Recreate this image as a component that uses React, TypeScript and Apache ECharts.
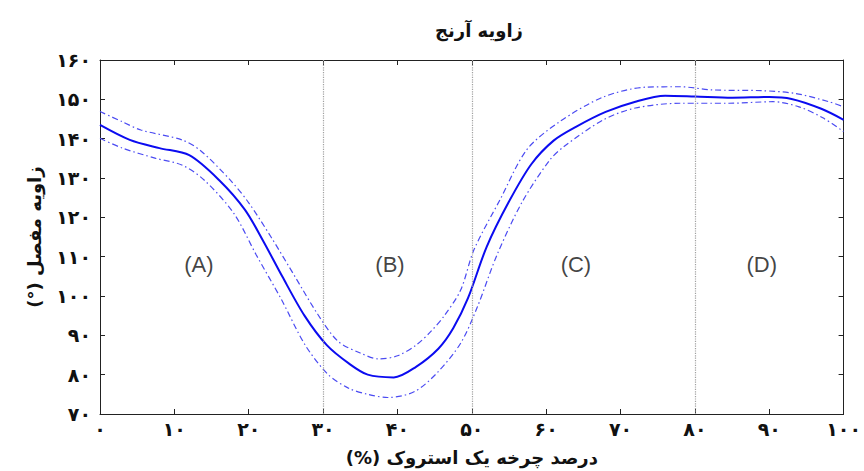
import React, { useEffect, useRef } from "react";
import * as echarts from "echarts";

const RLM = "\u200F";
const titleText = "زاویه آرنج";
const xAxisName = "درصد چرخه یک استروک (%)";
const yAxisName = "زاویه مفصل (°)";

const xTicks = [0, 10, 20, 30, 40, 50, 60, 70, 80, 90, 100];
const yMin = 70;
const yMax = 160;

const meanX = [0, 4, 8, 12, 16, 19.5, 22, 24.5, 27.5, 30.5, 33.5, 36, 39.5, 42.5, 45.5, 47.5, 49.5, 52, 55, 58, 61, 64, 68, 72, 76, 80, 85, 90, 93, 97, 100];
const meanY = [143.5, 139.7, 137.6, 135.8, 129.5, 121.9, 113.8, 105, 95, 87.5, 82.8, 80, 79.3, 82, 86.6, 91.8, 99.5, 112.5, 124, 133.5, 139.5, 143, 146.8, 149.4, 150.9, 150.7, 150.4, 150.6, 150.1, 147.6, 144.8];

const upperX = [0, 3, 5.5, 11, 13.5, 17.5, 20, 23, 26.2, 29.3, 32, 35, 37.5, 40, 42.5, 44.5, 46.3, 48.5, 50.3, 53.8, 57.4, 61.8, 67.7, 73.5, 78, 82.3, 89, 93.5, 98, 100];
const upperY = [146.9, 144.3, 142.2, 139.7, 137, 129.5, 123.7, 115, 105, 95.3, 88.5, 85.5, 84, 84.8, 87.5, 91, 95, 101.5, 111.8, 124.5, 137.2, 144.3, 150.6, 153.1, 153.2, 152.4, 152.2, 151.5, 149.4, 148.1];

const lowerX = [0, 3, 7.5, 11, 14, 18, 21, 24.4, 27.6, 30.7, 33.5, 36, 38.7, 42.3, 45.4, 48.5, 50.7, 53.4, 56.8, 60.5, 62.4, 67.7, 72, 78, 84.6, 90.5, 94, 97.2, 100];
const lowerY = [140.1, 137.6, 135, 133.3, 129.5, 121, 110.5, 99.1, 87.5, 80, 76.5, 75, 74.2, 75.7, 80.6, 88, 97, 110.5, 124, 134.6, 138, 144.8, 147.8, 149, 149, 149.4, 148.1, 145.3, 141.8];

const phaseBounds = [30, 50, 80];
const phaseLabels = ["(A)", "(B)", "(C)", "(D)"];
const phaseLabelX = [13.3, 39, 64, 89];
const phaseLabelY = [108, 108, 108, 108];

const FA_DIGITS = "۰۱۲۳۴۵۶۷۸۹";
const toFa = (v: number | string) => String(v).replace(/\d/g, (d) => FA_DIGITS[Number(d)]);

const zip = (xs: number[], ys: number[]) => xs.map((x, i) => [x, ys[i]]);

const FONT = "DejaVu Sans";

export default function App() {
  const ref = useRef<HTMLDivElement>(null);
  useEffect(() => {
    if (!ref.current) return;
    const chart = echarts.init(ref.current, undefined, { renderer: "svg" });
    const axisLine = { show: true, onZero: false, lineStyle: { color: "#222", width: 1 } };
    const tick = { show: true, inside: true, length: 5, lineStyle: { color: "#222" } };
    const dashDot = [6, 3, 1.5, 3];
    const tickLabel = {
      formatter: (v: number) => toFa(v),
      fontSize: 19,
      fontWeight: "bold",
      color: "#111",
      fontFamily: FONT,
    };
    chart.setOption({
      animation: false,
      backgroundColor: "#ffffff",
      title: {
        text: titleText,
        left: 474,
        top: 16,
        textAlign: "center",
        textStyle: { fontFamily: FONT, fontWeight: "bold", fontSize: 18, color: "#111" },
      },
      grid: { left: 100, right: 16, top: 60, bottom: 56 },
      xAxis: [
        {
          type: "value",
          min: 0,
          max: 100,
          interval: 10,
          position: "bottom",
          axisLine,
          axisTick: tick,
          splitLine: { show: false },
          axisLabel: { ...tickLabel, margin: 5, customValues: xTicks },
          name: xAxisName + RLM,
          nameLocation: "middle",
          nameGap: 34,
          nameTextStyle: { fontFamily: FONT, fontWeight: "bold", fontSize: 18, color: "#111" },
        },
        {
          type: "value",
          min: 0,
          max: 100,
          interval: 10,
          position: "top",
          axisLine,
          axisTick: tick,
          splitLine: { show: false },
          axisLabel: { show: false },
        },
      ],
      yAxis: [
        {
          type: "value",
          min: yMin,
          max: yMax,
          interval: 10,
          position: "left",
          axisLine,
          axisTick: tick,
          splitLine: { show: false },
          axisLabel: { ...tickLabel, margin: 9 },
          name: yAxisName + RLM,
          nameLocation: "middle",
          nameRotate: 90,
          nameGap: 57,
          nameTextStyle: { fontFamily: FONT, fontWeight: "bold", fontSize: 18, color: "#111" },
        },
        {
          type: "value",
          min: yMin,
          max: yMax,
          interval: 10,
          position: "right",
          axisLine,
          axisTick: tick,
          splitLine: { show: false },
          axisLabel: { show: false },
        },
      ],
      series: [
        {
          type: "line",
          name: "upper",
          data: zip(upperX, upperY),
          smooth: 0.3,
          symbol: "none",
          lineStyle: { color: "#4b4bf2", width: 1.2, type: dashDot },
          z: 3,
        },
        {
          type: "line",
          name: "lower",
          data: zip(lowerX, lowerY),
          smooth: 0.3,
          symbol: "none",
          lineStyle: { color: "#4b4bf2", width: 1.2, type: dashDot },
          z: 3,
        },
        {
          type: "line",
          name: "mean",
          data: zip(meanX, meanY),
          smooth: 0.3,
          symbol: "none",
          lineStyle: { color: "#0b0bf0", width: 2 },
          z: 4,
          markLine: {
            silent: true,
            symbol: "none",
            label: { show: false },
            lineStyle: { color: "#a0a0a0", type: "dotted", width: 1.2 },
            data: phaseBounds.map((b) => ({ xAxis: b })),
          },
        },
        {
          type: "scatter",
          name: "labels",
          symbolSize: 0,
          data: phaseLabels.map((t, i) => ({ value: [phaseLabelX[i], phaseLabelY[i]], name: t })),
          label: {
            show: true,
            position: "inside",
            formatter: (p: any) => p.name,
            fontFamily: "Liberation Sans",
            fontSize: 22,
            color: "#111",
          },
          z: 5,
        },
      ],
    });
    return () => chart.dispose();
  }, []);
  return <div ref={ref} style={{ width: 864, height: 471, position: "absolute", left: 0, top: 0 }} />;
}
